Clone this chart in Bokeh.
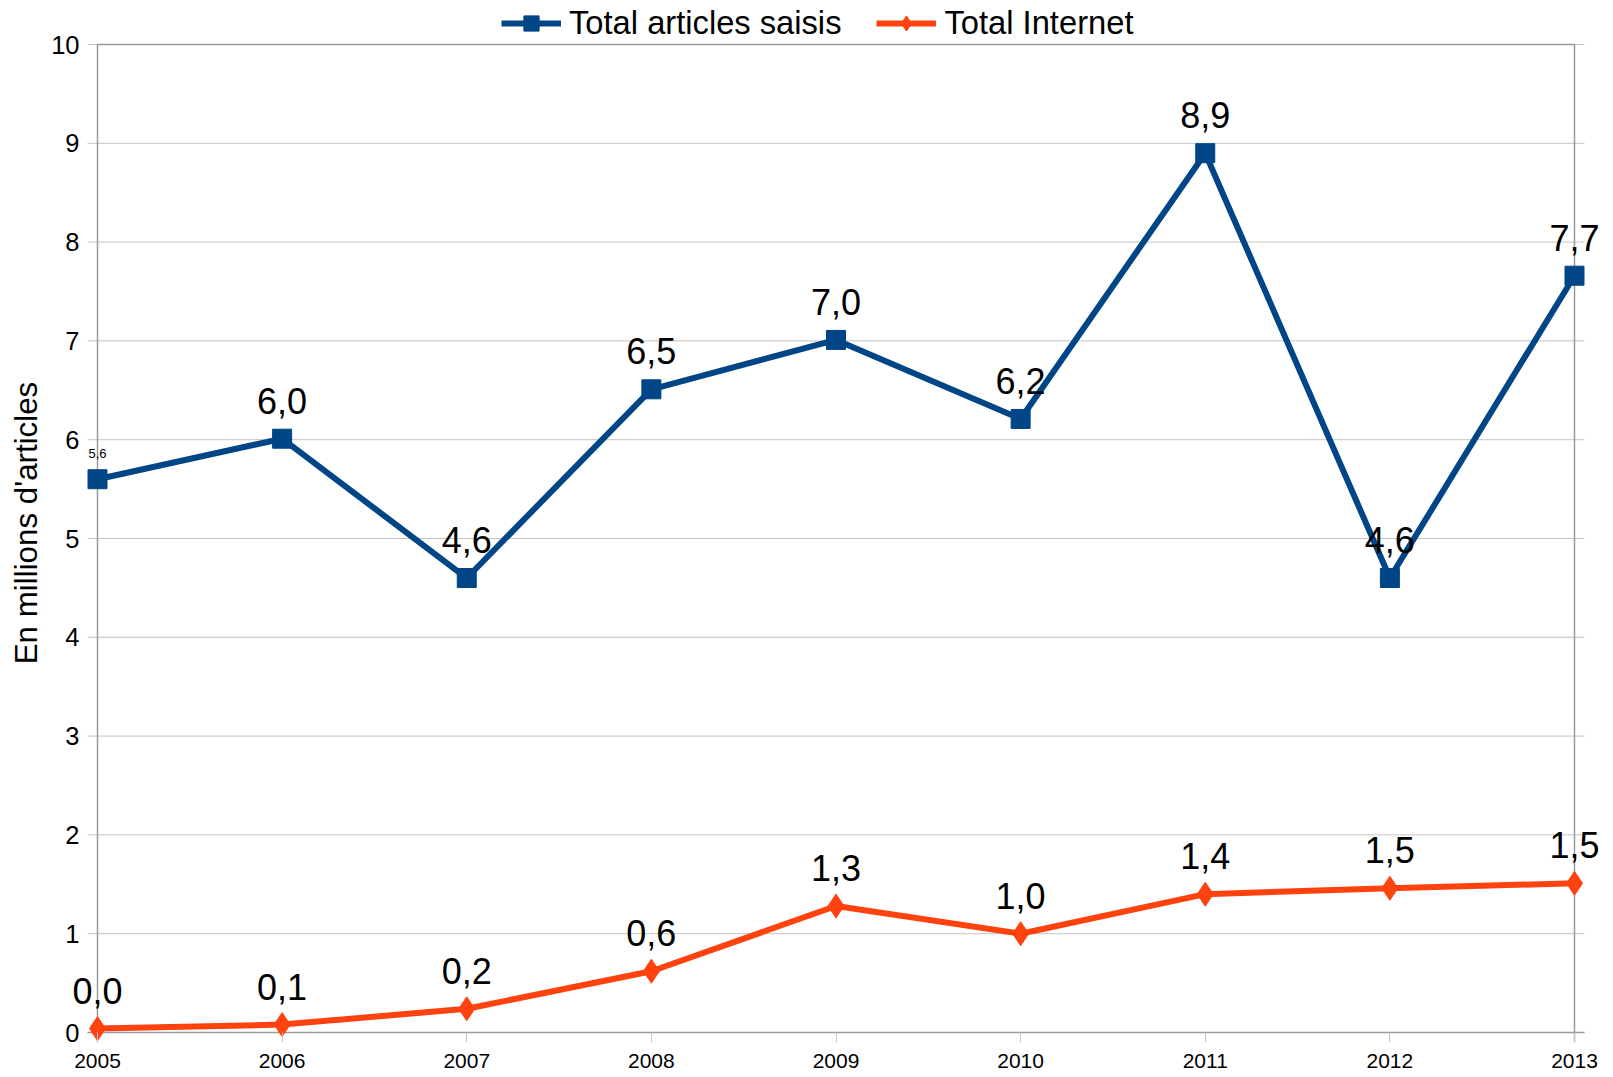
from bokeh.plotting import figure
from bokeh.models import (ColumnDataSource, Range1d, FixedTicker, LabelSet,
                          Label, Legend, LegendItem)
from bokeh.core.properties import value
from bokeh.embed import file_html
from bokeh.resources import INLINE

# ---------------- data ----------------
years = [2005, 2006, 2007, 2008, 2009, 2010, 2011, 2012, 2013]
year_labels = ["2005", "2006", "2007", "2008", "2009", "2010", "2011", "2012", "2013"]
articles_saisis = [5.60, 6.01, 4.60, 6.51, 7.01, 6.21, 8.90, 4.60, 7.66]
total_internet = [0.04, 0.08, 0.24, 0.62, 1.28, 1.00, 1.40, 1.46, 1.51]
y_ticks = [0, 1, 2, 3, 4, 5, 6, 7, 8, 9, 10]
series_names = ["Total articles saisis", "Total Internet"]
y_title = "En millions d'articles"

# ---------------- style / geometry ----------------
FONT = "Liberation Sans"
BLUE = "#004586"
ORANGE = "#ff420e"
GRID = "#c4c4c4"
BORDER = "#9a9a9a"
W, H = 1613, 1077
B_LEFT, B_RIGHT, B_TOP, B_BOTTOM = 69, 11, 3, 35
PAD_L, PAD_R, PAD_T, PAD_B = 28, 28, 41, 10   # px between frame edge and data edge
TICK = 10                                     # px length of tick overhang

frame_w = W - B_LEFT - B_RIGHT
frame_h = H - B_TOP - B_BOTTOM
px_x = (frame_w - PAD_L - PAD_R) / (years[-1] - years[0])
px_y = (frame_h - PAD_T - PAD_B) / (y_ticks[-1] - y_ticks[0])
x_lo, x_hi = years[0], years[-1]
y_lo, y_hi = y_ticks[0], y_ticks[-1]
tx = TICK / px_x
ty = TICK / px_y


def fmt(v):
    return f"{v:.1f}".replace(".", ",")


p = figure(width=W, height=H,
           x_range=Range1d(x_lo - PAD_L / px_x, x_hi + PAD_R / px_x),
           y_range=Range1d(y_lo - PAD_B / px_y, y_hi + PAD_T / px_y),
           output_backend="svg", toolbar_location=None,
           min_border_left=B_LEFT, min_border_right=B_RIGHT,
           min_border_top=B_TOP, min_border_bottom=B_BOTTOM)
p.outline_line_color = None
p.background_fill_color = "white"
p.border_fill_color = "white"
p.xgrid.visible = False
p.ygrid.visible = False

# x axis
p.xaxis.ticker = FixedTicker(ticks=years)
p.xaxis.major_label_overrides = {y: l for y, l in zip(years, year_labels)}
p.xaxis.axis_line_color = None
p.xaxis.major_tick_in = PAD_B
p.xaxis.major_tick_out = 0
p.xaxis.major_tick_line_color = GRID
p.xaxis.minor_tick_line_color = None
p.xaxis.major_label_text_font = FONT
p.xaxis.major_label_text_font_size = "21px"
p.xaxis.major_label_text_color = "black"
p.xaxis.major_label_standoff = 11

# y axis (labels sit just left of the tick overhang)
p.yaxis.ticker = FixedTicker(ticks=y_ticks)
p.yaxis.axis_line_color = None
p.yaxis.major_tick_in = 0
p.yaxis.major_tick_out = 0
p.yaxis.minor_tick_line_color = None
p.yaxis.major_label_text_font = FONT
p.yaxis.major_label_text_font_size = "25.5px"
p.yaxis.major_label_text_color = "black"
p.yaxis.major_label_standoff = -(PAD_L - TICK - 8)
p.yaxis.axis_label = y_title
p.yaxis.axis_label_text_font = FONT
p.yaxis.axis_label_text_font_size = "31.3px"
p.yaxis.axis_label_text_font_style = "normal"
p.yaxis.axis_label_text_color = "black"
p.yaxis.axis_label_standoff = 4

# horizontal grid lines (with tick overhang on both sides)
p.segment(x0=[x_lo - tx] * len(y_ticks), y0=y_ticks,
          x1=[x_hi + tx] * len(y_ticks), y1=y_ticks,
          line_color=GRID, line_width=1)
# plot border at the data edges
p.segment(x0=[x_lo, x_hi], y0=[y_lo - ty, y_lo - ty], x1=[x_lo, x_hi], y1=[y_hi, y_hi],
          line_color=BORDER, line_width=1.5)
p.segment(x0=[x_lo - tx, x_lo], y0=[y_lo, y_hi], x1=[x_hi + tx, x_hi], y1=[y_lo, y_hi],
          line_color=BORDER, line_width=1.5)

# series
blue_line = p.line(years, articles_saisis, line_color=BLUE, line_width=6)
blue_mark = p.scatter(years, articles_saisis, marker="square", size=19,
                      fill_color=BLUE, line_color=BLUE)
orange_line = p.line(years, total_internet, line_color=ORANGE, line_width=6)
orange_mark = p.scatter(years, total_internet, marker="diamond", size=24,
                        fill_color=ORANGE, line_color=ORANGE)

# data labels
blue_src = ColumnDataSource(dict(x=years[1:], y=articles_saisis[1:],
                                 text=[fmt(v) for v in articles_saisis[1:]]))
orange_src = ColumnDataSource(dict(x=years, y=total_internet,
                                   text=[fmt(v) for v in total_internet]))
for src in (blue_src, orange_src):
    p.add_layout(LabelSet(x="x", y="y", text="text", source=src,
                          text_align="center", text_baseline="middle",
                          y_offset=38, text_font=value(FONT),
                          text_font_size="36px", text_color="black"))
p.add_layout(Label(x=years[0], y=articles_saisis[0], text=fmt(articles_saisis[0]),
                   text_align="center", text_baseline="middle", y_offset=26,
                   text_font=FONT, text_font_size="13px", text_color="black"))

# legend (inside the frame's top padding)
LEG_H = 38
legend = Legend(items=[LegendItem(label=series_names[0], renderers=[blue_line, blue_mark]),
                       LegendItem(label=series_names[1], renderers=[orange_line, orange_mark])],
                orientation="horizontal",
                location=(432, frame_h - (23 - B_TOP) - LEG_H / 2),
                label_text_font=FONT, label_text_font_size="32.7px",
                label_text_color="black",
                glyph_width=60, glyph_height=LEG_H, label_height=LEG_H,
                label_standoff=8, spacing=35,
                padding=0, margin=0, border_line_color=None,
                background_fill_alpha=0)
p.add_layout(legend)

open("out.html", "w").write(file_html(p, INLINE))
